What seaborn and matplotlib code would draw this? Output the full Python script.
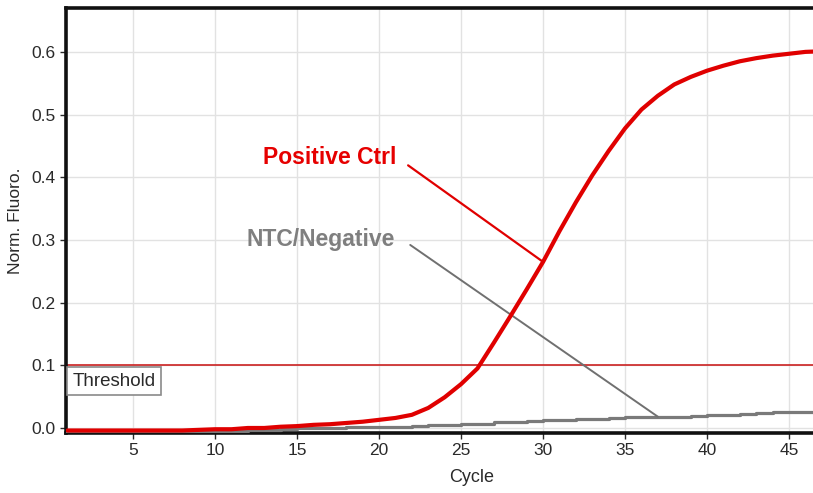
import numpy as np
import pandas as pd
import matplotlib.pyplot as plt
import seaborn as sns

# ------------------- Data -------------------
cycles = list(range(1, 48))
positive = [-0.004, -0.004, -0.004, -0.004, -0.004, -0.004, -0.004, -0.004, -0.003, -0.002,
            -0.002, 0.000, 0.000, 0.002, 0.003, 0.005, 0.006, 0.008, 0.010, 0.013,
            0.016, 0.021, 0.032, 0.049, 0.070, 0.095, 0.136, 0.178, 0.221, 0.265,
            0.314, 0.360, 0.403, 0.442, 0.478, 0.508, 0.530, 0.548, 0.560, 0.570,
            0.578, 0.585, 0.590, 0.594, 0.597, 0.600, 0.601]
negative = [-0.007, -0.007, -0.007, -0.007, -0.007, -0.007, -0.007, -0.007, -0.007, -0.005,
            -0.005, -0.003, -0.003, -0.001, 0.000, 0.000, 0.000, 0.001, 0.001, 0.001,
            0.002, 0.003, 0.004, 0.005, 0.006, 0.007, 0.009, 0.010, 0.011, 0.012,
            0.013, 0.014, 0.015, 0.016, 0.017, 0.018, 0.018, 0.018, 0.019, 0.020,
            0.021, 0.022, 0.024, 0.025, 0.025, 0.025, 0.025]
threshold = 0.1
x_ticks = [5, 10, 15, 20, 25, 30, 35, 40, 45]
y_ticks = [0.0, 0.1, 0.2, 0.3, 0.4, 0.5, 0.6]

df = pd.DataFrame({'Cycle': cycles, 'Positive': positive, 'Negative': negative})

sns.set_style("whitegrid")
plt.rcParams['font.family'] = ['Liberation Sans', 'DejaVu Sans']

fig = plt.figure(figsize=(8.13, 4.93), dpi=100)
ax = fig.add_axes([66 / 813, 1 - 433 / 493, 1 - 66 / 813, (433 - 8) / 493])

sns.lineplot(data=df, x='Cycle', y='Negative', ax=ax, color='#7a7a7a', lw=2.3,
             drawstyle='steps-post', zorder=3)
sns.lineplot(data=df, x='Cycle', y='Positive', ax=ax, color='#e00000', lw=3.0, zorder=4)
ax.axhline(threshold, color='#c81010', lw=1.1, zorder=2)

ax.set_xlim(0.91, 46.46)
ax.set_ylim(-0.008, 0.67)
ax.set_xticks(x_ticks)
ax.set_yticks(y_ticks)
ax.set_yticklabels([f'{v:.1f}' for v in y_ticks])
ax.grid(True, color='#e2e2e2', lw=1.0)
ax.tick_params(axis='both', labelsize=12.5, colors='#2a2a2a', direction='out',
               length=4, width=1, left=True, bottom=True)

ax.set_xlabel('Cycle', fontsize=13, color='#2a2a2a', labelpad=2)
ax.xaxis.set_label_coords((472 - 66) / (813 - 66), -0.085)
ax.set_ylabel('Norm. Fluoro.', fontsize=12.5, color='#2a2a2a', labelpad=6)

for side in ['left', 'bottom', 'top']:
    ax.spines[side].set_visible(True)
    ax.spines[side].set_color('#111111')
    ax.spines[side].set_linewidth(2.6)
ax.spines['right'].set_visible(False)

# Threshold label box
ax.text(0.0085, 0.0885, 'Threshold', transform=ax.get_yaxis_transform(),
        ha='left', va='top', fontsize=13.5, color='#2a2a2a', zorder=5,
        bbox=dict(boxstyle='square,pad=0.3', fc='white', ec='#8a8a8a', lw=1.2))

# Annotations
narrow = ['Liberation Sans Narrow', 'Liberation Sans', 'DejaVu Sans']
ax.text(12.9, 0.432, 'Positive Ctrl', fontsize=16.5, fontweight='bold', color='#e60000',
        ha='left', va='center', family=narrow)
ax.annotate('', xy=(cycles[29], positive[29]), xytext=(21.77, 0.419),
            arrowprops=dict(arrowstyle='-', color='#e00000', lw=1.6, shrinkA=0, shrinkB=0))
ax.text(11.9, 0.300, 'NTC/Negative', fontsize=16.5, fontweight='bold', color='#7f7f7f',
        ha='left', va='center', family=narrow)
ax.annotate('', xy=(cycles[36], negative[36]), xytext=(21.9, 0.292),
            arrowprops=dict(arrowstyle='-', color='#707070', lw=1.4, shrinkA=0, shrinkB=0))

fig.savefig('out.png', dpi=100)
